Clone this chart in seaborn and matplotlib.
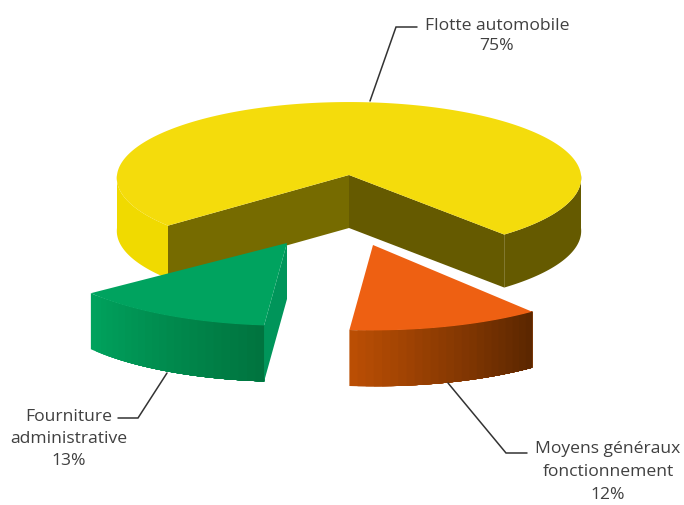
import numpy as np
import matplotlib
matplotlib.use("Agg")
import matplotlib.pyplot as plt
import seaborn as sns

# --- data -------------------------------------------------------------
categories = ["Flotte automobile", "Fourniture\nadministrative", "Moyens généraux\nfonctionnement"]
shares = [75, 13, 12]

# --- style / layout ---------------------------------------------------
top_colors = ["#F4DC0C", "#00A35F", "#EE6012"]
cut_colors = [("#766B00", "#655A00"), ("#00955A", None), (None, None)]
wall_ramps = [("#F0DA00", "#F0DA00"), ("#00A25D", "#00743F"), ("#BA4E04", "#5C2700")]
apexes = [(349, 175), (287, 243), (373, 245)]
radius = [1.0, 1.047, 1.08]
thickness = [53, 56, 56]
label_xy = [(497, 36), (69, 439), (608, 472)]
leaders = [[(370, 101), (396, 27), (417, 27)],
           [(167, 373), (138, 418), (118, 418)],
           [(448, 383), (506, 453), (527, 453)]]
label_spacing = [1.36, 1.5, 1.55]
RX, RY, PERSP = 232, 76, 0.04
START = 220.5          # big slice ends / exploded slices start here (degrees, ccw)
FRONT_TWIST = -2.5     # view-angle twist of the exploded slices

sns.set_theme(style="white")
plt.rcParams["font.family"] = ["Open Sans", "DejaVu Sans"]

fig, ax = plt.subplots(figsize=(6.84, 5.05), dpi=100)
ax.set_position([0, 0, 1, 1])
ax.set_xlim(0, 684)
ax.set_ylim(505, 0)
ax.axis("off")


def project(apex, r, deg):
    a = np.deg2rad(deg)
    c, s = np.cos(a), -np.sin(a)
    f = 1 + PERSP * s
    return apex[0] + RX * r * c * f, apex[1] + RY * r * s * f


def draw_wall(apex, r, h, a0, a1, ramp, z, steps=24):
    # painted from one end: each band covers everything up to the far end,
    # so no seams show between the bands of the ramp
    pal = sns.blend_palette(list(ramp), steps)
    edges = np.linspace(a0, a1, steps + 1)
    for i in range(steps):
        arc = np.linspace(edges[i], a1, 60)
        x, y = project(apex, r, arc)
        ax.fill(np.r_[x, x[::-1]], np.r_[y, y[::-1] + h],
                facecolor=pal[i], edgecolor="none", lw=0, zorder=z)


def draw_cut(apex, r, h, deg, color, z):
    x, y = project(apex, r, deg)
    ax.fill([apex[0], x, x, apex[0]], [apex[1], y, y + h, apex[1] + h],
            facecolor=color, edgecolor="none", lw=0, zorder=z)


def draw_top(apex, r, a0, a1, color, z):
    x, y = project(apex, r, np.linspace(a0, a1, 300))
    ax.fill(np.r_[apex[0], x], np.r_[apex[1], y], facecolor=color,
            edgecolor="none", lw=0, zorder=z)


# spans of the slices, walked counter-clockwise from the big slice's end
spans = [s / sum(shares) * 360 for s in shares]
fl_end = START
fl_start = fl_end - spans[0]
fo_start = START + FRONT_TWIST
fo_end = fo_start + spans[1]
mo_start = fo_end
mo_end = mo_start + spans[2]

# big slice (yellow)
ap, r, h = apexes[0], radius[0], thickness[0]
draw_wall(ap, r, h, 180, fl_end, wall_ramps[0], 1, steps=1)
draw_wall(ap, r, h, fl_start, 0, ("#655A00", "#655A00"), 1, steps=1)
draw_cut(ap, r, h, fl_end, cut_colors[0][0], 2)
draw_cut(ap, r, h, fl_start, cut_colors[0][1], 2)
draw_top(ap, r, fl_start, fl_end, top_colors[0], 3)

# green slice
ap, r, h = apexes[1], radius[1], thickness[1]
draw_wall(ap, r, h, fo_start, fo_end, wall_ramps[1], 4)
draw_cut(ap, r, h, fo_end, cut_colors[1][0], 4)
draw_top(ap, r, fo_start, fo_end, top_colors[1], 5)

# orange slice
ap, r, h = apexes[2], radius[2], thickness[2]
draw_wall(ap, r, h, mo_start, mo_end, wall_ramps[2], 4)
draw_top(ap, r, mo_start, mo_end, top_colors[2], 5)

# leaders and labels
for name, val, xy, pts, sp in zip(categories, shares, label_xy, leaders, label_spacing):
    px, py = zip(*pts)
    ax.plot(px, py, color="#333333", lw=1.1, solid_joinstyle="miter", zorder=6)
    ax.text(xy[0], xy[1], f"{name}\n{val}%", ha="center", va="center",
            fontsize=12.6, color="#404040", linespacing=sp, zorder=7)

fig.savefig("out.png", dpi=100, facecolor="white")
